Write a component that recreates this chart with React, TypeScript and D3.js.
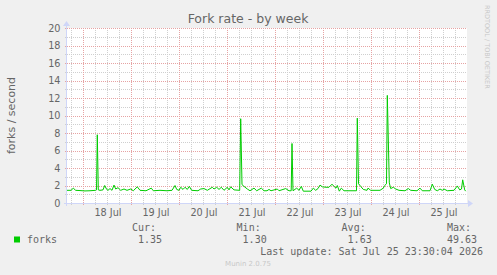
import React from "react";
import * as d3 from "d3";

const startTime = new Date(2026, 6, 17, 16, 0, 0);
const endTime = new Date(2026, 6, 26, 0, 0, 0);

// hours since startTime
const sampleHours = [
  0, 2, 3.2, 4.25, 6.5, 9, 11.5, 14.25, 14.75, 15.15, 15.65, 16.5, 18, 18.85, 19.85, 20.5, 21.5, 22.5, 23.5, 24.35,
  25.5, 26.85, 28.5, 30, 31.85, 33.15, 35.15, 36.5, 39.5, 42.15, 43.15, 46.5, 50, 52.5, 54, 54.85, 56, 56.85, 58, 59,
  60.15, 61.15, 62.35, 65.5, 66.85, 68.5, 70.15, 72.65, 73.5, 74.85, 76, 77.15, 78.5, 80.15, 81, 81.85, 83.5, 86.35, 86.85, 87.5,
  88.5, 90.15, 91.5, 93.5, 94.85, 97.15, 98.5, 100, 101, 102, 105.15, 106, 109.35, 111, 112.1, 112.5, 113, 114.85, 116, 117.15,
  118.15, 122, 123.15, 124.35, 125.5, 126.5, 127.65, 129.5, 131, 132.5, 133.5, 134.5, 135.15, 136.15, 137.15, 138.5, 144, 144.75, 145.15, 145.75,
  146.85, 148.15, 150, 150.5, 151.85, 156.5, 158.15, 158.85, 159.75, 160.15, 161.15, 161.85, 163.15, 164.35, 166, 169, 170.65, 171.85, 175, 176.5,
  177.65, 181.5, 182.65, 183.85, 185.15, 186.5, 187.65, 188.5, 190.15, 193.5, 195.15, 196.35, 197.25, 197.85, 198.85, 199.35,
];
const forkValues = [
  1.45, 1.45, 1.7, 1.45, 1.42, 1.38, 1.4, 1.45, 1.5, 7.8, 1.5, 1.45, 1.5, 2.0, 1.55, 1.45, 1.65, 1.45, 2.05, 1.6,
  1.75, 1.45, 1.6, 1.45, 1.6, 1.4, 1.85, 1.45, 1.4, 1.7, 1.4, 1.45, 1.4, 1.45, 2.0, 1.55, 1.45, 1.8, 1.55, 1.8,
  1.55, 1.9, 1.45, 1.4, 1.6, 1.65, 1.45, 1.8, 1.6, 1.8, 1.55, 1.8, 1.45, 1.8, 1.5, 1.85, 1.5, 1.45, 9.63, 2.1,
  1.9, 1.6, 1.4, 1.7, 1.4, 1.7, 1.4, 1.4, 1.55, 1.4, 1.6, 1.4, 1.65, 1.4, 1.4, 6.8, 1.4, 1.7, 1.45, 1.9,
  1.35, 1.35, 1.7, 1.45, 1.65, 2.05, 1.85, 1.8, 1.8, 2.15, 1.9, 1.7, 2.0, 1.35, 1.7, 1.4, 1.4, 1.4, 9.7, 2.2,
  1.9, 1.55, 1.45, 1.7, 1.45, 1.45, 1.7, 2.0, 2.2, 12.3, 2.3, 1.65, 1.8, 1.6, 1.45, 1.4, 1.65, 1.45, 1.4, 1.7,
  1.4, 1.4, 2.15, 1.55, 1.4, 1.6, 1.45, 1.6, 1.4, 1.45, 1.95, 1.5, 1.6, 2.65, 1.5, 1.35,
];

const yTicks = [0, 2, 4, 6, 8, 10, 12, 14, 16, 18, 20];
const dayLabels = ["18 Jul", "19 Jul", "20 Jul", "21 Jul", "22 Jul", "23 Jul", "24 Jul", "25 Jul"];
const statLabels = ["Cur:", "Min:", "Avg:", "Max:"];
const statValues = ["1.35", "1.30", "1.63", "49.63"];

const W = 497;
const H = 275;
const PL = 67;
const PR = 467;
const PT = 28;
const PB = 203;

const GRID = "#cfcfcf";
const MGRID = "#e6a3a3";
const AXIS = "#CFD6F8";
const FONT = "#666666";

export default function App() {
  const x = d3.scaleTime().domain([startTime, endTime]).range([PL, PR]);
  const y = d3.scaleLinear().domain([0, 20]).range([PB, PT]);
  const hourMs = 3600 * 1000;
  const pts = sampleHours.map((h, i) => ({ t: new Date(startTime.getTime() + h * hourMs), v: forkValues[i] }));
  const line = d3
    .line<{ t: Date; v: number }>()
    .x((d) => x(d.t))
    .y((d) => y(d.v));

  const sixHours = d3.timeHour.every(6)!.range(startTime, endTime).filter((d) => d > startTime);
  const minorX = sixHours.filter((d) => d.getHours() !== 0);
  const majorX = sixHours.filter((d) => d.getHours() === 0);
  const noons = d3.timeDay.range(new Date(2026, 6, 18), new Date(2026, 6, 26)).map((d) => new Date(d.getTime() + 12 * hourMs));
  const minorY = d3.range(1, 21, 2);
  const cx = (v: number) => Math.round(v) + 0.5;

  const statLabelEnd = [156, 260.7, 365.7, 471];

  return (
    <svg width={W} height={H} style={{ position: "absolute", left: 0, top: 0, background: "#F0F0F0" }}>
      <rect x={0} y={0} width={W} height={H} fill="#F0F0F0" />
      <rect x={PL} y={PT} width={PR - PL} height={PB - PT} fill="#FFFFFF" />
      <g shapeRendering="crispEdges" strokeDasharray="1 1">
        {minorX.map((d, i) => (
          <line key={"mx" + i} x1={cx(x(d))} x2={cx(x(d))} y1={PT} y2={PB + 3} stroke={GRID} />
        ))}
        {minorY.map((v, i) => (
          <line key={"my" + i} x1={PL - 2} x2={PR} y1={cx(y(v))} y2={cx(y(v))} stroke={GRID} />
        ))}
        {majorX.map((d, i) => (
          <line key={"Mx" + i} x1={cx(x(d))} x2={cx(x(d))} y1={PT} y2={PB + 3} stroke={MGRID} />
        ))}
        {yTicks.filter((v) => v > 0).map((v, i) => (
          <line key={"My" + i} x1={PL - 2} x2={PR} y1={cx(y(v))} y2={cx(y(v))} stroke={MGRID} />
        ))}
      </g>
      <g fontFamily="DejaVu Sans" fontSize={9.7} fill={FONT}>
        {yTicks.map((v) => (
          <text key={v} x={60.5} y={y(v) + 3.5} textAnchor="end">
            {v}
          </text>
        ))}
        {noons.map((d, i) => (
          <text key={i} x={x(d) + 1} y={216} textAnchor="middle">
            {dayLabels[i]}
          </text>
        ))}
      </g>
      <path d={line(pts) ?? ""} fill="none" stroke="#00CC00" strokeWidth={1} />
      <g shapeRendering="crispEdges">
        <line x1={PL - 3} x2={PR + 2} y1={PB + 0.5} y2={PB + 0.5} stroke={AXIS} />
        <line x1={PL - 0.5} x2={PL - 0.5} y1={PB + 3} y2={PT - 3} stroke={AXIS} />
      </g>
      <path d={`M${PR + 1},${PB - 3} L${PR + 6},${PB + 0.5} L${PR + 1},${PB + 4} Z`} fill={AXIS} />
      <path d={`M${PL - 4},${PT - 2} L${PL - 0.5},${PT - 7} L${PL + 3},${PT - 2} Z`} fill={AXIS} />
      <text x={248} y={23} textAnchor="middle" fontFamily="DejaVu Sans" fontSize={12.5} fill={FONT}>
        Fork rate - by week
      </text>
      <text
        transform={`translate(15,${(PT + PB) / 2}) rotate(-90)`}
        textAnchor="middle"
        fontFamily="DejaVu Sans"
        fontSize={11}
        fill={FONT}
      >
        forks / second
      </text>
      <text
        transform={`translate(485,5) rotate(90)`}
        textAnchor="start"
        fontFamily="DejaVu Sans"
        fontSize={6.5}
        fill="#c8c8c8"
      >
        RRDTOOL / TOBI OETIKER
      </text>
      <rect x={14} y={236.5} width={6} height={6} fill="#00CC00" />
      <g fontFamily="DejaVu Sans Mono" fontSize={10} fill={FONT}>
        <text x={27} y={243}>forks</text>
        {statLabels.map((s, i) => (
          <text key={s} x={statLabelEnd[i]} y={231} textAnchor="end">
            {s}
          </text>
        ))}
        {statValues.map((s, i) => (
          <text key={s} x={statLabelEnd[i] + 6} y={243} textAnchor="end">
            {s}
          </text>
        ))}
        <text x={483} y={255} textAnchor="end">
          Last update: Sat Jul 25 23:30:04 2026
        </text>
      </g>
      <text x={248} y={266} textAnchor="middle" fontFamily="DejaVu Sans" fontSize={7} fill="#c8c8c8">
        Munin 2.0.75
      </text>
    </svg>
  );
}
